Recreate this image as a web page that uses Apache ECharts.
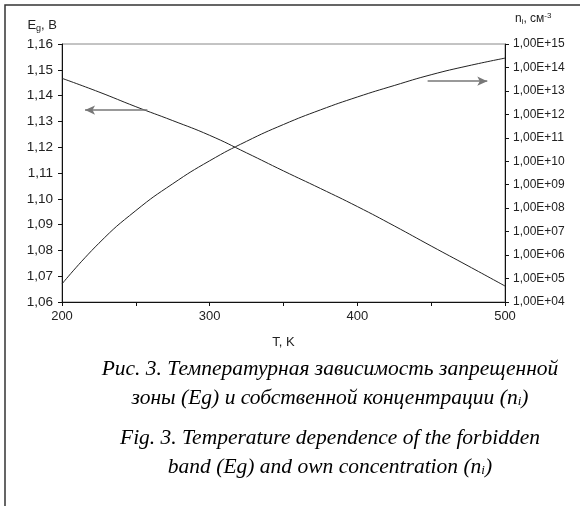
<!DOCTYPE html>
<html>
<head>
<meta charset="utf-8">
<script src="https://cdn.jsdelivr.net/npm/echarts@6/dist/echarts.min.js"></script>
<style>
  html, body { margin: 0; padding: 0; background: #fff; }
  #main { width: 582px; height: 506px; }
</style>
</head>
<body>
<div id="main"></div>
<script>
// температура, K
var temps = [200, 225, 250, 275, 300, 325, 350, 375, 400, 425, 450, 475, 500];
// ширина запрещенной зоны Eg, эВ
var eg = [1.1467, 1.1414, 1.1357, 1.1303, 1.1246, 1.1178, 1.1108, 1.1040, 1.0970, 1.0895, 1.0817, 1.0740, 1.0662];
// собственная концентрация ni, см-3
var ni = [5.9e4, 3.2e6, 7.9e7, 1.1e9, 1.05e10, 7.1e10, 3.7e11, 1.55e12, 5.5e12, 1.7e13, 4.9e13, 1.17e14, 2.5e14];
var xLabels = [200, 300, 400, 500];
// стрелки-указатели (T, значение)
var egArrow = [[257.8, 1.1344], [215.6, 1.1344]];
var niArrow = [[447.6, 2.6e13], [488, 2.6e13]];

var myChart = echarts.init(document.getElementById("main"));

var sans = "Liberation Sans";
var serif = "Liberation Serif";

// правая ось логарифмическая: откладываем порядок величины
function lg(v) {
  return Math.log10(v);
}

var egData = temps.map(function (t, i) {
  return [t, eg[i]];
});
var niData = temps.map(function (t, i) {
  return [t, lg(ni[i])];
});

var captionRich = {
  t: { fontFamily: serif, fontStyle: "italic", fontSize: 21.5, color: "#111" },
  s: { fontFamily: serif, fontStyle: "italic", fontSize: 13, color: "#111", padding: [8, 0, 0, 0] },
};

function caption(text, y) {
  return {
    type: "text",
    x: 330,
    y: y,
    style: {
      text: text,
      align: "center",
      verticalAlign: "middle",
      rich: captionRich,
    },
  };
}

var option = {
  backgroundColor: "#fff",
  animation: false,
  grid: {
    left: 62,
    right: 77,
    top: 44,
    bottom: 204,
    show: true,
    borderColor: "#888",
    borderWidth: 1,
  },
  xAxis: {
    type: "value",
    min: 200,
    max: 500,
    interval: 50,
    name: "T, K",
    nameLocation: "middle",
    nameGap: 34,
    nameTextStyle: { fontFamily: sans, fontSize: 13, color: "#222" },
    axisLine: { lineStyle: { color: "#111", width: 1 } },
    axisTick: { length: 4, lineStyle: { color: "#111" } },
    axisLabel: {
      margin: 8,
      fontFamily: sans,
      fontSize: 13,
      color: "#222",
      formatter: function (v) {
        return xLabels.indexOf(v) >= 0 ? String(v) : "";
      },
    },
    splitLine: { show: false },
  },
  yAxis: [
    {
      type: "value",
      min: 1.06,
      max: 1.16,
      interval: 0.01,
      position: "left",
      name: "{a|E}{s|g}{a|, B}",
      nameLocation: "end",
      nameGap: 11,
      nameTextStyle: {
        align: "right",
        padding: [0, 5, 0, 0],
        rich: {
          a: { fontFamily: sans, fontSize: 13, color: "#222" },
          s: { fontFamily: sans, fontSize: 9, color: "#222", padding: [6, 0, 0, 0] },
        },
      },
      axisLine: { show: true, lineStyle: { color: "#111", width: 1 } },
      axisTick: { show: true, length: 4, lineStyle: { color: "#111" } },
      axisLabel: {
        margin: 9,
        fontFamily: sans,
        fontSize: 13.5,
        color: "#222",
        formatter: function (v) {
          return v.toFixed(2).replace(".", ",");
        },
      },
      splitLine: { show: false },
    },
    {
      type: "value",
      min: lg(1e4),
      max: lg(1e15),
      interval: 1,
      position: "right",
      name: "n{s|i}, см{p|-3}",
      nameLocation: "end",
      nameGap: 18,
      nameTextStyle: {
        align: "left",
        padding: [0, 0, 0, 10],
        fontFamily: sans,
        fontSize: 12,
        color: "#222",
        rich: {
          s: { fontFamily: sans, fontSize: 8, color: "#222", padding: [6, 0, 0, 0] },
          p: { fontFamily: sans, fontSize: 8, color: "#222", padding: [0, 0, 6, 0] },
        },
      },
      axisLine: { show: true, lineStyle: { color: "#111", width: 1 } },
      axisTick: { show: true, length: 4, lineStyle: { color: "#111" } },
      axisLabel: {
        margin: 8,
        fontFamily: sans,
        fontSize: 12,
        color: "#222",
        formatter: function (v) {
          var e = Math.round(v);
          return "1,00E+" + (e < 10 ? "0" + e : e);
        },
      },
      splitLine: { show: false },
    },
  ],
  series: [
    {
      name: "Eg",
      type: "line",
      yAxisIndex: 0,
      data: egData,
      smooth: true,
      showSymbol: false,
      lineStyle: { color: "#222", width: 1 },
      markLine: {
        silent: true,
        symbol: ["none", "arrow"],
        symbolSize: [7, 10],
        label: { show: false },
        lineStyle: { color: "#777", width: 1.5, type: "solid" },
        itemStyle: { color: "#111" },
        data: [[{ coord: egArrow[0] }, { coord: egArrow[1] }]],
      },
    },
    {
      name: "ni",
      type: "line",
      yAxisIndex: 1,
      data: niData,
      smooth: true,
      showSymbol: false,
      lineStyle: { color: "#222", width: 1 },
      markLine: {
        silent: true,
        symbol: ["none", "arrow"],
        symbolSize: [7, 10],
        label: { show: false },
        lineStyle: { color: "#777", width: 1.5, type: "solid" },
        itemStyle: { color: "#111" },
        data: [[
          { coord: [niArrow[0][0], lg(niArrow[0][1])] },
          { coord: [niArrow[1][0], lg(niArrow[1][1])] },
        ]],
      },
    },
  ],
  graphic: [
    {
      type: "polyline",
      shape: { points: [[5, 506], [5, 5], [580, 5]] },
      style: { stroke: "#333", lineWidth: 1.5, fill: null },
    },
    caption("{t|Рис. 3. Температурная зависимость запрещенной}", 369),
    caption("{t|зоны (Eg) и собственной концентрации (n}{s|i}{t|)}", 398),
    caption("{t|Fig. 3. Temperature dependence of the forbidden}", 438),
    caption("{t|band (Eg) and own concentration (n}{s|i}{t|)}", 467),
  ],
};

myChart.setOption(option);
</script>
</body>
</html>
